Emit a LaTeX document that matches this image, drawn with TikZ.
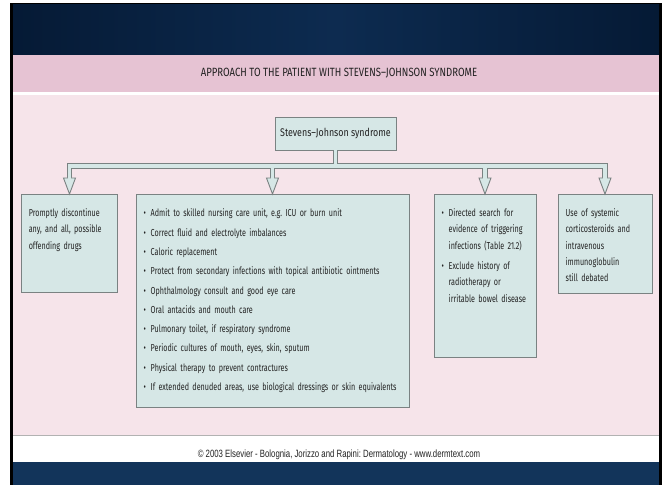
\documentclass[tikz,border=0pt]{standalone}
\usepackage{fontspec}
\setmainfont[FakeStretch=0.71, WordSpace=0.75]{Fira Sans}
\newfontfamily\titlefont[FakeStretch=0.8]{Fira Sans}
\newfontfamily\footfont[FakeStretch=0.74]{Liberation Sans}
\usetikzlibrary{positioning, calc}

\definecolor{navyA}{HTML}{051A35}
\definecolor{navyB}{HTML}{0D2B50}
\definecolor{navyC}{HTML}{12345A}
\definecolor{bandpink}{HTML}{E6C3D3}
\definecolor{bodypink}{HTML}{F6E4EA}
\definecolor{boxfill}{HTML}{D6E7E6}
\definecolor{boxline}{HTML}{7A8282}
\definecolor{txt}{HTML}{222222}

\frenchspacing
\hyphenpenalty=10000
\exhyphenpenalty=10000
\newcommand{\blt}{\makebox[5pt][l]{\textbullet}}
\newcommand{\ind}{\hspace*{5pt}}
% pipe tree, drawn once per pass
\newcommand{\drawpipes}[2]{%
  \draw[#1] (sjs.south) -- (sjs.south |- bus);
  \draw[#1] ($(drugs.north)+(0,#2)$) |- (bus) -| ($(steroids.north)+(0,#2)$);
  \draw[#1] (care.north |- bus) -- ($(care.north)+(0,#2)$);
  \draw[#1] (search.north |- bus) -- ($(search.north)+(0,#2)$);
}

\begin{document}
\begin{tikzpicture}[x=0.025cm, y=0.025cm,
  box/.style={draw=boxline, fill=boxfill, line width=0.65pt, text=txt,
    font=\fontsize{7.2}{11.4}\selectfont, align=left, anchor=north,
    inner xsep=5.5pt, inner ysep=0pt, text height=16pt},
  topbox/.style={draw=boxline, fill=boxfill, line width=0.65pt, text=txt,
    font=\titlefont\fontsize{7.9}{9}\selectfont, inner xsep=0pt,
    minimum width=86pt, minimum height=23.5pt},
  pipeout/.style={draw=boxline, line width=3.8pt, line join=miter},
  pipein/.style={draw=boxfill, line width=2.3pt, line join=miter},
  headtip/.style={draw=boxline, fill=boxfill, line width=0.65pt, line join=miter}
  ]
  \useasboundingbox (0,0) rectangle (665,485);
  % slide frame
  \fill[white] (0,0) rectangle (665,485);
  \fill[black] (10,0) rectangle (662,482);
  \shade[left color=navyA, right color=navyA, middle color=navyB] (13,430) rectangle (659,480);
  \fill[bandpink] (13,393) rectangle (659,430);
  \fill[white] (13,390) rectangle (659,393);
  \fill[bodypink] (13,50) rectangle (659,390);
  \fill[gray!60] (13,49) rectangle (659,50);
  \fill[white] (13,23) rectangle (659,49);
  \fill[navyC] (13,0) rectangle (659,23);

  \node[text=txt, font=\titlefont\fontsize{8.5}{10}\selectfont] (title) at (339,412)
    {APPROACH TO THE PATIENT WITH STEVENS–JOHNSON SYNDROME};
  \node[text=txt, font=\footfont\fontsize{7.5}{9}\selectfont] (credit) at (339,30)
    {© 2003 Elsevier - Bolognia, Jorizzo and Rapini: Dermatology - www.dermtext.com};

  \node[topbox] (sjs) at (335.5,351.5) {Stevens–Johnson syndrome};

  \node[box, text width=57.9pt, text depth=53.7pt] (drugs) at (69.5,291)
    {Promptly discontinue\\ any, and all, possible\\ offending drugs};
  \node[box, text width=183.2pt, text depth=135.5pt] (care) at (272.5,291)
    {\blt Admit to skilled nursing care unit, e.g. ICU or burn unit\\[2.3pt]
     \blt Correct fluid and electrolyte imbalances\\[2.3pt]
     \blt Caloric replacement\\[2.3pt]
     \blt Protect from secondary infections with topical antibiotic ointments\\[2.3pt]
     \blt Ophthalmology consult and good eye care\\[2.3pt]
     \blt Oral antacids and mouth care\\[2.3pt]
     \blt Pulmonary toilet, if respiratory syndrome\\[2.3pt]
     \blt Periodic cultures of mouth, eyes, skin, sputum\\[2.3pt]
     \blt Physical therapy to prevent contractures\\[2.3pt]
     \blt If extended denuded areas, use biological dressings or skin equivalents};
  \node[box, text width=61.6pt, text depth=100pt] (search) at (485,291)
    {\blt Directed search for\\ \ind evidence of triggering\\ \ind infections (Table 21.2)\\[3.5pt]
     \blt Exclude history of\\ \ind radiotherapy or\\ \ind irritable bowel disease};
  \node[box, text width=55.9pt, text depth=54.4pt] (steroids) at (605,291)
    {Use of systemic\\ corticosteroids and\\ intravenous\\ immunoglobulin\\ still debated};

  \coordinate (bus) at (336,319);
  \drawpipes{pipeout}{16}
  \foreach \b in {drugs, care, search, steroids}
    \draw[headtip] ($(\b.north)+(-6,16)$) -- ($(\b.north)+(6,16)$) -- (\b.north) -- cycle;
  \drawpipes{pipein}{15.2}
\end{tikzpicture}
\end{document}
